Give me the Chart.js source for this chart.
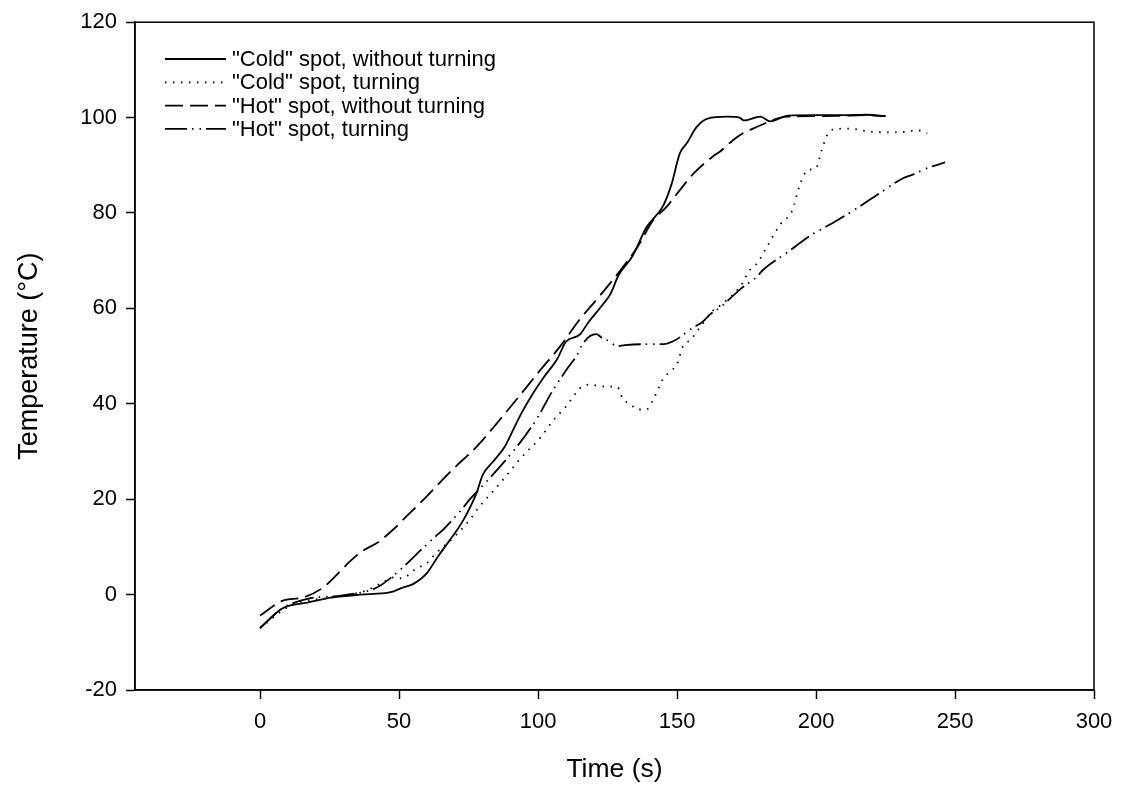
<!DOCTYPE html>
<html>
<head>
<meta charset="utf-8">
<script src="https://cdn.jsdelivr.net/npm/chart.js@4/dist/chart.umd.min.js"></script>
<style>
body{margin:0;background:#fff}
#box{width:1125px;height:807px}
</style>
</head>
<body>
<div id="box"><canvas id="tempChart"></canvas></div>
<script>

let seriesNames=['"Cold" spot, without turning','"Cold" spot, turning','"Hot" spot, without turning','"Hot" spot, turning']

let coldX=[0,8,17,26,36,47,51,55,60,64,69,73,78,80,84,88,91,94,98,102,107,110,115,118,123,126,129,134,139,145,148,151,153.5,157,161,168,172.5,174,180,183.5,190,200,210,218,225]
let coldY=[-7,-2.9,-1.7,-0.6,0,0.5,1.4,2.2,4.5,8,12,15.5,21.5,25,28,31,34.5,38,42,45.5,49.5,53,54.5,57,60.6,63,67,71,77,81.5,86,92.5,94.6,98,99.8,100.2,100,99.4,100.2,99.2,100.4,100.5,100.5,100.6,100.3]

let coldTurnX=[0,11,28,38,44,48,51,56,60,63,70,75,79,84,89,93,96,101,105,110,114,116,119,122,125,128.5,130.5,133,136,139,141,145,148,150,152,155,159,163,166,173,176,179,182.5,187,191.5,194,197,200,202,204,206,212,220,229,237,240]
let coldTurnY=[-7,-2.3,-0.4,0.8,2.5,3.6,3.4,5.4,6.6,8.5,12.2,15.4,18.5,21.8,25.2,28.1,30,33,36.2,39.4,42.5,43.7,44,43.7,43.6,43.5,41,40,38.8,38.8,40.4,45.2,47,48.3,51.9,53.5,56.6,59.6,60.8,64.8,67.9,69.6,73.1,77.5,80.6,85.6,89,89.4,93.1,96.3,97.5,97.7,97,96.9,97.3,96.7]

let hotX=[0,8,15.5,22.7,29,32.4,37,42,48,53,58.6,64.7,70.8,75.5,79,86.3,93.5,100.7,108,115,122.3,129.5,135.6,141.4,146.4,151,156,163,165.5,170,173.7,177.3,180.5,183.5,189.6,200,210,218,225]
let hotY=[-4.4,-1.3,-0.6,1.5,5,7,9.2,10.8,13.7,16.6,19.8,23.5,27.1,29.6,31.7,36.7,41.8,47,52.1,57.7,62.7,67.9,72.7,78.5,81.4,84.8,88.3,91.9,92.9,95.2,96.7,97.7,98.5,99.3,100.2,100.3,100.4,100.5,100.3]

let hotTurnX=[0,8,17,29,42,50.4,57.6,63.5,66,73,75.5,80.5,87.5,94.6,99.6,105,110.4,114,115.8,118.7,121,123,125.3,128.4,131.3,139.2,145,148.6,155.8,159,162,165.5,172.7,178.8,181,189.6,197.8,206,214.7,223,231.3,235,240,246.4]
let hotTurnY=[-7,-2.9,-0.9,-0.2,1.5,5.2,9.2,12.4,13.7,18.2,20,23.1,27.6,32.7,36.9,42.5,47.3,50.2,52.3,54.2,54.6,53.8,53.2,52.1,52.3,52.5,52.5,53.1,56,57.1,58.8,60.2,64,66.7,68.1,71.7,75.2,77.9,81,84.2,87.3,88.1,89.4,90.6]

let xTicks=[0,50,100,150,200,250,300]
let yTicks=[-20,0,20,40,60,80,100,120]

const font="'Liberation Sans', Arial, sans-serif"

function pts(xs,ys){
return xs.map((x,i)=>({x:x,y:ys[i]}))
}

function line(label,xs,ys,dash){
return{
label:label,
data:pts(xs,ys),
borderColor:"#000",
borderWidth:1.8,
borderDash:dash,
pointRadius:0,
cubicInterpolationMode:"monotone",
fill:false
}
}

// legend drawn inside the plot, top left
const legendInside={
id:"legendInside",
afterDraw(chart){
const ctx=chart.ctx
ctx.save()
chart.data.datasets.forEach((d,i)=>{
let y=59+i*23.3
ctx.strokeStyle="#000"
ctx.lineWidth=d.borderWidth
ctx.setLineDash(d.borderDash)
ctx.beginPath()
ctx.moveTo(165,y)
ctx.lineTo(226,y)
ctx.stroke()
ctx.setLineDash([])
ctx.fillStyle="#000"
ctx.font="22px "+font
ctx.textBaseline="middle"
ctx.fillText(d.label,232,y+1)
})
ctx.restore()
}
}

const frame={
id:"frame",
afterDraw(chart){
const a=chart.chartArea
const ctx=chart.ctx
ctx.save()
ctx.strokeStyle="#000"
ctx.lineWidth=1.5
ctx.strokeRect(a.left,a.top,a.right-a.left,a.bottom-a.top)
ctx.restore()
}
}

new Chart(document.getElementById("tempChart"),{
type:"line",
data:{datasets:[
line(seriesNames[0],coldX,coldY,[]),
line(seriesNames[1],coldTurnX,coldTurnY,[1.5,6.5]),
line(seriesNames[2],hotX,hotY,[18,7]),
line(seriesNames[3],hotTurnX,hotTurnY,[22,5,1.5,6,1.5,5])
]},
options:{
responsive:true,
maintainAspectRatio:false,
animation:false,
layout:{padding:{top:18,right:31,left:0,bottom:0}},
plugins:{legend:{display:false},tooltip:{enabled:false}},
scales:{
x:{
type:"linear",
min:-45,
max:300,
afterBuildTicks:s=>{s.ticks=xTicks.map(v=>({value:v}))},
afterFit:s=>{s.height=117},
grid:{drawOnChartArea:false,tickLength:9,tickColor:"#000",tickWidth:1.5},
border:{color:"#000",width:1.5},
ticks:{color:"#000",font:{family:font,size:22},padding:10,maxRotation:0},
title:{display:true,text:"Time (s)",color:"#000",font:{family:font,size:26.5},padding:{top:0,bottom:21}}
},
y:{
min:-20,
max:120,
afterBuildTicks:s=>{s.ticks=yTicks.map(v=>({value:v}))},
afterFit:s=>{s.width=135},
grid:{drawOnChartArea:false,tickLength:9,tickColor:"#000",tickWidth:1.5},
border:{color:"#000",width:1.5},
ticks:{color:"#000",font:{family:font,size:22},padding:9},
title:{display:true,text:"Temperature (°C)",color:"#000",font:{family:font,size:27},padding:{top:13,bottom:0}}
}
}
},
plugins:[legendInside,frame]
})

</script>
</body>
</html>
